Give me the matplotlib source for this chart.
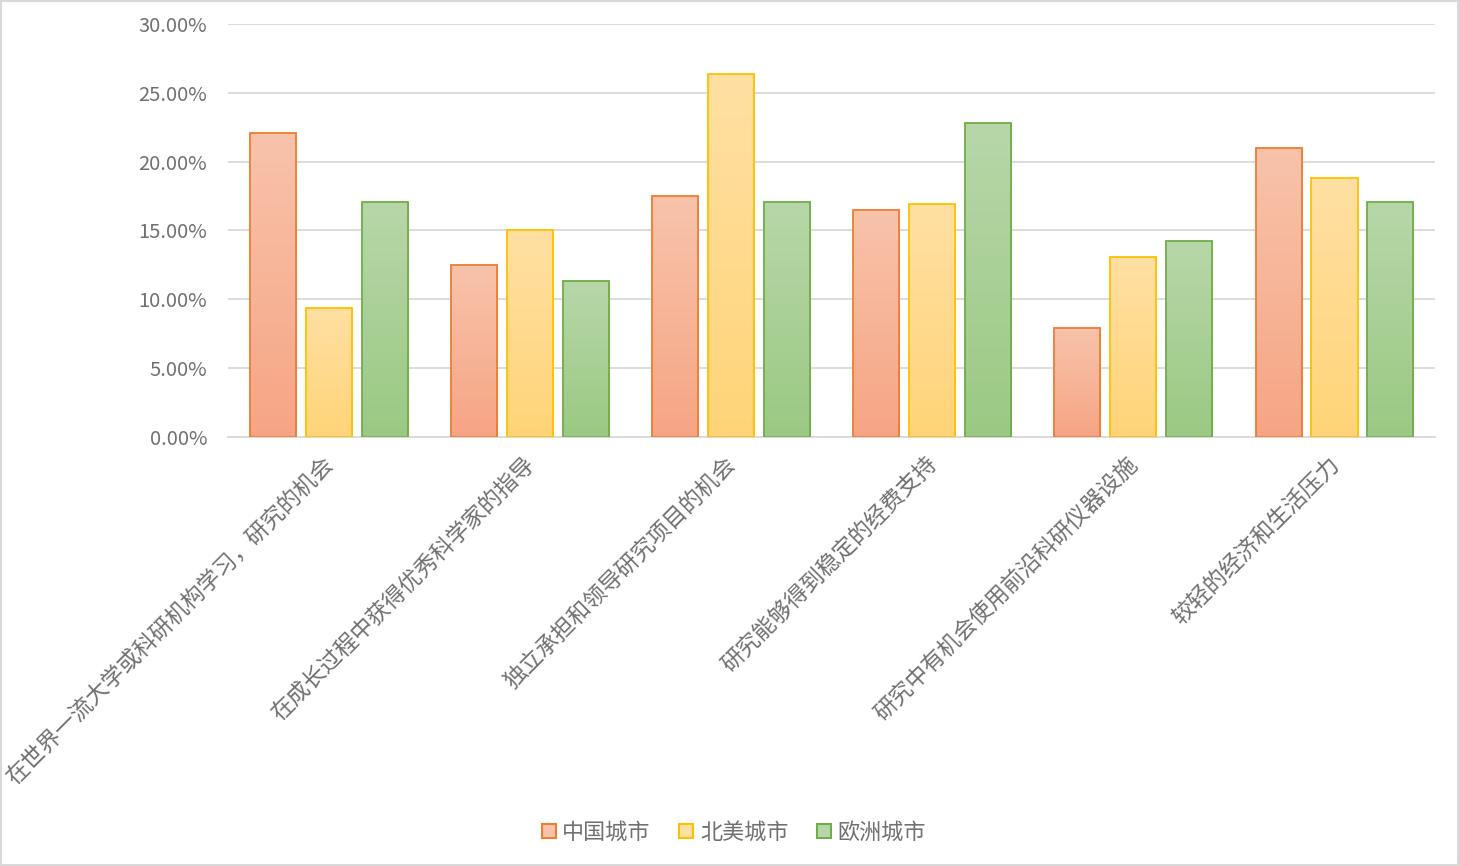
"""
Grouped bar chart: 城市吸引力因素对比 (中国 / 北美 / 欧洲).
"""

import matplotlib
matplotlib.use("Agg")
import matplotlib.pyplot as plt
import matplotlib.transforms as mtransforms
import numpy as np
from matplotlib.colors import LinearSegmentedColormap
from matplotlib.patches import Rectangle
from matplotlib.ticker import FuncFormatter

plt.rcParams["font.family"] = ["Noto Sans CJK SC", "DejaVu Sans"]

categories = [
    "在世界一流大学或科研机构学习，研究的机会",
    "在成长过程中获得优秀科学家的指导",
    "独立承担和领导研究项目的机会",
    "研究能够得到稳定的经费支持",
    "研究中有机会使用前沿科研仪器设施",
    "较轻的经济和生活压力",
]
series_names = ["中国城市", "北美城市", "欧洲城市"]
china = [22.1, 12.5, 17.5, 16.5, 7.9, 21.0]
north_america = [9.4, 15.0, 26.4, 16.9, 13.1, 18.8]
europe = [17.1, 11.3, 17.1, 22.8, 14.2, 17.1]
series_values = [china, north_america, europe]

# (top colour, bottom colour, edge colour)
styles = [
    ("#F8C3AB", "#F6A584", "#ED7D31"),
    ("#FFE0A3", "#FFD478", "#FFC000"),
    ("#B7D7A9", "#9BC983", "#70AD47"),
]
text_color = "#707070"
grid_color = "#D9D9D9"

fig = plt.figure(figsize=(14.59, 8.66), dpi=100)
ax = fig.add_axes([0.1563, 0.4954, 0.8273, 0.4769])

x = np.arange(len(categories))
bar_width = 0.229
offsets = [-0.278, 0.0, 0.278]

for values, (top, bottom, edge), off, name in zip(series_values, styles, offsets, series_names):
    bars = ax.bar(x + off, values, width=bar_width, facecolor="none", edgecolor=edge,
                  linewidth=1.3, label=name, zorder=3)
    cmap = LinearSegmentedColormap.from_list(name, [bottom, top])
    for bar in bars:
        x0, y0 = bar.get_x(), bar.get_y()
        w, h = bar.get_width(), bar.get_height()
        grad = np.linspace(0, 1, 256).reshape(-1, 1)
        im = ax.imshow(grad, cmap=cmap, origin="lower", aspect="auto",
                       extent=(x0, x0 + w, y0, y0 + h), zorder=2)
        im.set_clip_path(Rectangle((x0, y0), w, h, transform=ax.transData))

ax.set_xlim(-0.5, len(categories) - 0.5)
ax.set_ylim(0, 30)
ax.set_yticks(np.arange(0, 30.1, 5))
ax.yaxis.set_major_formatter(FuncFormatter(lambda v, _: f"{v:.2f}%"))
ax.grid(True, axis="y", color=grid_color, linewidth=1.3, zorder=0)
ax.set_axisbelow(True)

for side in ["top", "right", "left"]:
    ax.spines[side].set_visible(False)
ax.spines["bottom"].set_color(grid_color)
ax.spines["bottom"].set_linewidth(1.3)
ax.tick_params(axis="both", length=0, colors=text_color)
ax.tick_params(axis="y", pad=15, labelsize=14.5)

ax.set_xticks(x)
ax.set_xticklabels(categories, rotation=45, ha="right", va="top",
                   rotation_mode="anchor", fontsize=16.3, color=text_color)
ax.tick_params(axis="x", pad=11)
shift = mtransforms.ScaledTranslation(-7 / 100, 0, fig.dpi_scale_trans)
for lbl in ax.get_xticklabels():
    lbl.set_transform(lbl.get_transform() + shift)

legend_handles = [Rectangle((0, 0), 1, 1, facecolor=s[0], edgecolor=s[2], linewidth=1.5)
                  for s in styles]
fig.legend(legend_handles, series_names, loc="center", bbox_to_anchor=(0.503, 0.038),
           ncol=3, frameon=False, labelcolor=text_color,
           handlelength=0.62, handleheight=0.62, handletextpad=0.3, columnspacing=1.3,
           prop={"size": 15.9})

fig.patches.append(Rectangle((0.0005, 0.001), 0.999, 0.998, transform=fig.transFigure,
                             fill=False, edgecolor=grid_color, linewidth=1.5))

fig.savefig("out.png", dpi=100)
plt.close(fig)
